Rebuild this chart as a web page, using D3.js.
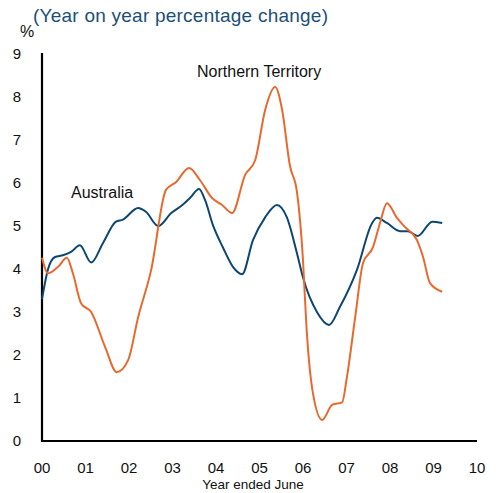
<!DOCTYPE html>
<html><head><meta charset="utf-8">
<script src="https://cdn.jsdelivr.net/npm/d3@7"></script>
<style>body{margin:0;background:#fff}svg{display:block;font-family:"Liberation Sans",Arial,sans-serif}</style>
</head><body><svg id="c" width="499" height="493"></svg>
<script>
// Years are fractional years since June 2000 (x-axis "Year ended June")
const ausYears = [0.0,0.14,0.3,0.48,0.67,0.87,1.13,1.40,1.70,1.86,2.21,2.39,2.67,2.97,3.24,3.40,3.61,3.75,3.93,4.16,4.39,4.60,4.85,5.13,5.40,5.63,5.86,6.00,6.32,6.60,6.85,7.24,7.59,7.70,7.93,8.23,8.41,8.64,8.97,9.20];
const ausValues = [3.3,4.0,4.28,4.32,4.4,4.55,4.15,4.6,5.1,5.15,5.42,5.33,5.0,5.3,5.5,5.65,5.86,5.6,5.02,4.5,4.05,3.88,4.67,5.2,5.49,5.2,4.37,3.8,3.0,2.70,3.12,3.98,5.07,5.19,5.07,4.88,4.88,4.77,5.1,5.07];
const ntYears = [0.0,0.14,0.37,0.57,0.71,0.90,1.13,1.45,1.72,1.98,2.21,2.51,2.85,3.08,3.38,3.63,3.91,4.14,4.37,4.67,4.90,5.13,5.36,5.52,5.70,5.86,6.00,6.08,6.23,6.44,6.67,6.90,7.01,7.20,7.38,7.61,7.77,7.93,8.16,8.34,8.62,8.76,8.92,9.20];
const ntValues = [4.26,3.9,4.05,4.26,3.9,3.2,3.0,2.19,1.6,1.88,2.88,3.98,5.84,6.02,6.35,6.07,5.65,5.49,5.3,6.19,6.53,7.7,8.23,7.7,6.4,5.8,4.2,2.65,1.1,0.49,0.84,0.9,1.49,2.88,4.14,4.51,5.07,5.53,5.19,4.98,4.67,4.28,3.67,3.47];
const xTickLabels = ["00","01","02","03","04","05","06","07","08","09","10"];
const yTicks = [0,1,2,3,4,5,6,7,8,9];

const svg = d3.select("#c");
const x = d3.scaleLinear().domain([0,10]).range([42,477]);
const y = d3.scaleLinear().domain([0,9]).range([441,54]);

// title
svg.append("text").attr("x",33).attr("y",22).attr("fill","#1b4f7a")
  .attr("font-size",19).attr("textLength",295).attr("lengthAdjust","spacing")
  .text("(Year on year percentage change)");
svg.append("text").attr("x",20).attr("y",37).attr("font-size",16).attr("fill","#111").text("%");

// y tick labels
svg.append("g").selectAll("text").data(yTicks).join("text")
  .attr("x",17).attr("y",d=>y(d)).attr("dy","0.36em").attr("text-anchor","middle")
  .attr("font-size",15).attr("fill","#111").text(d=>d);
// x tick labels
svg.append("g").selectAll("text").data(xTickLabels).join("text")
  .attr("x",(d,i)=>x(i)).attr("y",473).attr("text-anchor","middle")
  .attr("font-size",15).attr("fill","#111").text(d=>d);
svg.append("text").attr("x",253).attr("y",489).attr("text-anchor","middle")
  .attr("font-size",13.5).attr("fill","#111").text("Year ended June");

// axes
const yAxis = d3.axisLeft(y).tickValues([]).tickSizeOuter(0);
const xAxis = d3.axisBottom(x).tickValues([]).tickSizeOuter(0);
svg.append("g").attr("transform","translate(42,0)").call(yAxis)
  .call(g=>g.select(".domain").attr("stroke","#000").attr("stroke-width",2.2).attr("d","M0,53V442"));
svg.append("g").attr("transform","translate(0,441)").call(xAxis)
  .call(g=>g.select(".domain").attr("stroke","#000").attr("stroke-width",2.2).attr("d","M41,0H477"));

const line = d3.line().curve(d3.curveMonotoneX).x(d=>x(d[0])).y(d=>y(d[1]));
svg.append("path").datum(ausYears.map((t,i)=>[t,ausValues[i]]))
  .attr("fill","none").attr("stroke","#0c4672").attr("stroke-width",2).attr("d",line);
svg.append("path").datum(ntYears.map((t,i)=>[t,ntValues[i]]))
  .attr("fill","none").attr("stroke","#e8692d").attr("stroke-width",2).attr("d",line);

svg.append("text").attr("x",71).attr("y",198).attr("font-size",16).attr("fill","#111").text("Australia");
svg.append("text").attr("x",197).attr("y",77).attr("font-size",16).attr("fill","#111").text("Northern Territory");
</script></body></html>
